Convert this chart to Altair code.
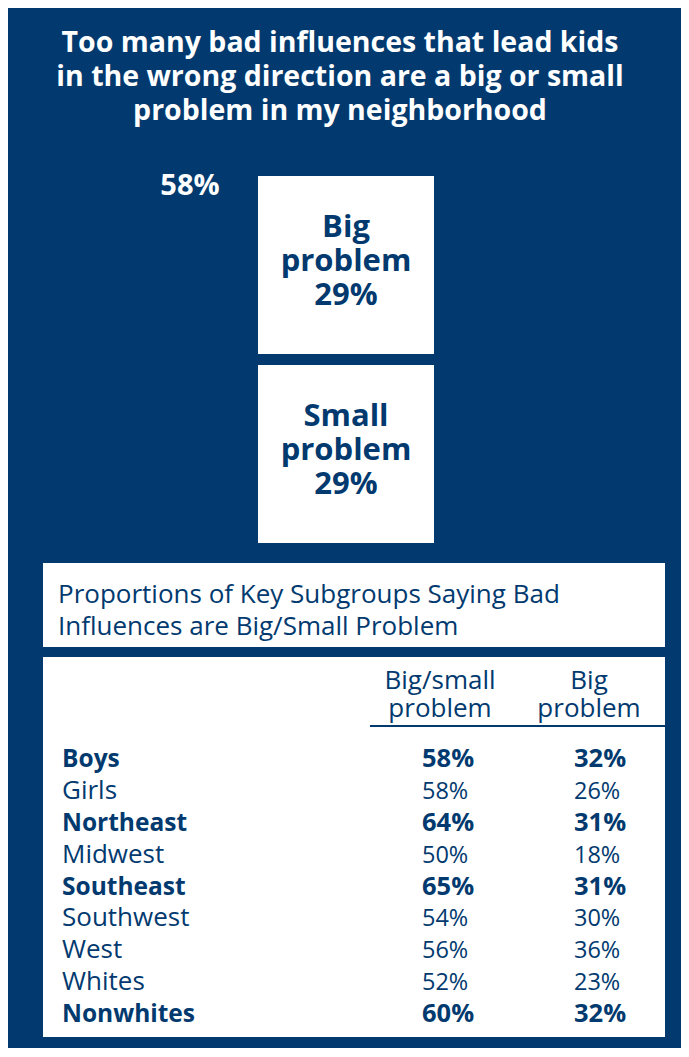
import altair as alt
import pandas as pd

NAVY = "#023a6f"
WHITE = "#ffffff"
FONT = "Open Sans"

# ---------------- data ----------------
title_lines = [
    "Too many bad influences that lead kids",
    "in the wrong direction are a big or small",
    "problem in my neighborhood",
]
segments = ["Big", "Small"]          # top to bottom
segment_values = [29, 29]
subtitle_lines = [
    "Proportions of Key Subgroups Saying Bad",
    "Influences are Big/Small Problem",
]
col_headers = ["Big/small\nproblem", "Big\nproblem"]
groups = ["Boys", "Girls", "Northeast", "Midwest", "Southeast",
          "Southwest", "West", "Whites", "Nonwhites"]
big_small = [58, 58, 64, 50, 65, 54, 56, 52, 60]
big = [32, 26, 31, 18, 31, 30, 36, 23, 32]
bold = [True, False, True, False, True, False, False, False, True]

# ---------------- tables ----------------
total = sum(segment_values)
rows = []
acc = 0
for s, v in reversed(list(zip(segments, segment_values))):
    rows.append({"cat": "Total", "seg": s, "value": v, "y0": acc, "y1": acc + v,
                 "mid": acc + v / 2, "label": f"{s}\nproblem\n{v}%"})
    acc += v
bar_df = pd.DataFrame(rows)
total_df = pd.DataFrame({"cat": ["Total"], "total": [total], "label": [f"{total}%"]})

table_df = pd.DataFrame({"group": groups, "bs": big_small, "b": big, "bold": bold})
table_df["bs_txt"] = table_df["bs"].astype(str) + "%"
table_df["b_txt"] = table_df["b"].astype(str) + "%"

one = alt.Data(values=[{}])

# ---------------- scales ----------------
xb = alt.Scale(type="band", domain=["Total"], range=[244.5, 431.5], paddingInner=0, paddingOuter=0)
yb = alt.Scale(domain=[0, total], range=[540.5, 162.5], nice=False)
yrow = alt.Scale(type="point", domain=groups, range=[759, 1014], padding=0)

# ---------------- layers ----------------
title = alt.Chart(alt.Data(values=[{"t": "\n".join(title_lines)}])).mark_text(
    lineBreak="\n", lineHeight=34, fontSize=28.5, fontWeight="bold", color=WHITE,
    font=FONT, align="center", baseline="alphabetic"
).encode(text="t:N", x=alt.value(332), y=alt.value(43.7))

bar = alt.Chart(bar_df).mark_bar(color=WHITE, stroke=NAVY, strokeWidth=11).encode(
    x=alt.X("cat:N", scale=xb, axis=None),
    y=alt.Y("y0:Q", scale=yb, axis=None),
    y2="y1:Q",
)

bar_text = alt.Chart(bar_df).mark_text(
    lineBreak="\n", lineHeight=34, fontSize=31, fontWeight="bold", color=NAVY,
    font=FONT, align="center", baseline="alphabetic", dy=-28.5
).encode(
    x=alt.X("cat:N", scale=xb, axis=None),
    y=alt.Y("mid:Q", scale=yb, axis=None),
    text="label:N",
)

total_text = alt.Chart(total_df).mark_text(
    fontSize=29, fontWeight="bold", color=WHITE, font=FONT, align="center",
    baseline="alphabetic", dx=-156, dy=24.5
).encode(
    x=alt.X("cat:N", scale=xb, axis=None),
    y=alt.Y("total:Q", scale=yb, axis=None),
    text="label:N",
)

panel1 = alt.Chart(one).mark_rect(color=WHITE).encode(
    x=alt.value(35), x2=alt.value(657), y=alt.value(555), y2=alt.value(639))
panel2 = alt.Chart(one).mark_rect(color=WHITE).encode(
    x=alt.value(35), x2=alt.value(657), y=alt.value(649), y2=alt.value(1029))

subtitle = alt.Chart(alt.Data(values=[{"t": "\n".join(subtitle_lines)}])).mark_text(
    lineBreak="\n", lineHeight=32, fontSize=26, color=NAVY, font=FONT,
    align="left", baseline="alphabetic"
).encode(text="t:N", x=alt.value(50), y=alt.value(595))

hdr1 = alt.Chart(alt.Data(values=[{"t": col_headers[0]}])).mark_text(
    lineBreak="\n", lineHeight=28, fontSize=26, color=NAVY, font=FONT,
    align="center", baseline="alphabetic"
).encode(text="t:N", x=alt.value(432), y=alt.value(681))
hdr2 = alt.Chart(alt.Data(values=[{"t": col_headers[1]}])).mark_text(
    lineBreak="\n", lineHeight=28, fontSize=26, color=NAVY, font=FONT,
    align="center", baseline="alphabetic"
).encode(text="t:N", x=alt.value(581), y=alt.value(681))

underline = alt.Chart(one).mark_rule(color=NAVY, strokeWidth=2).encode(
    x=alt.value(362), x2=alt.value(657), y=alt.value(718))

table_layers = []
for is_bold in (True, False):
    filt = alt.Chart(table_df).transform_filter(alt.datum.bold == is_bold)
    weight = "bold" if is_bold else "normal"
    yenc = alt.Y("group:N", scale=yrow, axis=None)
    lab = filt.mark_text(
        fontSize=24.5 if is_bold else 26, fontWeight=weight, color=NAVY,
        font=FONT, align="left", baseline="alphabetic")
    val = filt.mark_text(
        fontSize=25.5 if is_bold else 23.5, fontWeight=weight, color=NAVY,
        font=FONT, align="left", baseline="alphabetic")
    table_layers += [
        lab.encode(y=yenc, x=alt.value(54), text="group:N"),
        val.encode(y=yenc, x=alt.value(414), text="bs_txt:N"),
        val.encode(y=yenc, x=alt.value(566), text="b_txt:N"),
    ]

chart = alt.layer(
    title, bar, bar_text, total_text, panel1, panel2, subtitle, hdr1, hdr2,
    underline, *table_layers
).resolve_scale(
    x="independent", y="independent"
).properties(
    width=673, height=1040, padding=0,
    autosize=alt.AutoSizeParams(type="none"),
    background=NAVY,
).configure_view(stroke=None)

chart.save("out.html", embed_options={"renderer": "svg", "actions": False})
